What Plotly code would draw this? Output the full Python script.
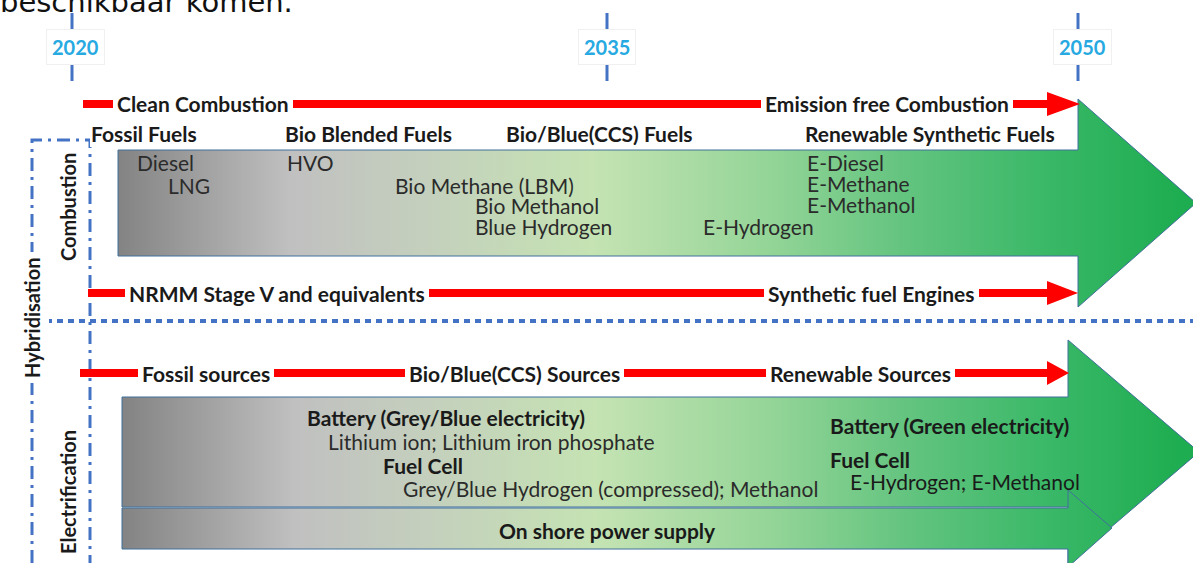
import plotly.graph_objects as go

# ---------------- data (texts) ----------------
header_text = "beschikbaar komen."
years = ["2020", "2035", "2050"]
combustion_targets = ["Clean Combustion", "Emission free Combustion"]
fuel_stages = ["Fossil Fuels", "Bio Blended Fuels", "Bio/Blue(CCS) Fuels", "Renewable Synthetic Fuels"]
combustion_fuels = ["Diesel", "LNG", "HVO", "Bio Methane (LBM)", "Bio Methanol",
                    "Blue Hydrogen", "E-Hydrogen", "E-Diesel", "E-Methane", "E-Methanol"]
engine_stages = ["NRMM Stage V and equivalents", "Synthetic fuel Engines"]
source_stages = ["Fossil sources", "Bio/Blue(CCS) Sources", "Renewable Sources"]
electric_headings = ["Battery (Grey/Blue electricity)", "Fuel Cell",
                     "Battery (Green electricity)", "Fuel Cell", "On shore power supply"]
electric_details = ["Lithium ion; Lithium iron phosphate",
                    "Grey/Blue Hydrogen (compressed); Methanol", "E-Hydrogen; E-Methanol"]
side_labels = ["Hybridisation", "Combustion", "Electrification"]

# ---------------- layout geometry (pixel canvas) ----------------
W, H = 1193, 563
FONT = "Lato"
SZ = 21
BLUE = "#4472c4"
RED = "#ff0000"
YEARC = "#27a9e1"
OUTLINE = "#41719c"

year_x = [72, 607, 1078]
year_label_x = [75, 607, 1082]

grad = [[0.0, "#838383"], [0.05, "#969696"], [0.16, "#c0c0c0"], [0.28, "#c4cfbd"],
        [0.44, "#c5e3b3"], [0.6, "#95d598"], [0.73, "#63c47f"], [0.86, "#3ab868"],
        [0.97, "#21ae53"], [1.0, "#1dac50"]]

fig = go.Figure()


def arrow_body(xs, ys, x0, x1):
    fig.add_trace(go.Scatter(
        x=xs, y=ys, mode="lines", fill="toself",
        line=dict(color=OUTLINE, width=1),
        fillgradient=dict(type="horizontal", colorscale=grad, start=x0, stop=x1),
        hoverinfo="skip", showlegend=False))


# combustion arrow
arrow_body([118, 1078, 1078, 1196, 1078, 1078, 118, 118],
           [150, 150, 99, 203, 307, 256, 256, 150], 118, 1196)
# electrification arrow
arrow_body([122, 1068, 1068, 1199, 1068, 1068, 122, 122],
           [397, 397, 340, 452, 564, 507, 507, 397], 122, 1199)
# on shore power supply arrow
arrow_body([122, 1068, 1068, 1112, 1068, 1068, 122, 122],
           [508, 508, 490, 528, 567, 549, 549, 508], 122, 1199)

# dash-dot hybridisation frame
fig.add_trace(go.Scatter(
    x=[32, 32, 90, 90], y=[563, 140, 140, 563], mode="lines",
    line=dict(color=BLUE, width=3, dash="13px,6px,3px,6px"),
    hoverinfo="skip", showlegend=False))
# dotted separator
fig.add_trace(go.Scatter(
    x=[46, 1193], y=[321, 321], mode="lines",
    line=dict(color=BLUE, width=4, dash="6px,5px"),
    hoverinfo="skip", showlegend=False))

shapes = []
# year ticks
for x in year_x:
    for (a, b) in [(13, 30), (62, 81)]:
        shapes.append(dict(type="line", xref="x", yref="y", x0=x, x1=x, y0=a, y1=b,
                           line=dict(color=BLUE, width=3)))

# red arrows
for (xa, xb, xt, y) in [(83, 1050, 1080, 104), (88, 1050, 1078, 293), (80, 1050, 1069, 373)]:
    shapes.append(dict(type="line", xref="x", yref="y", x0=xa, x1=xb, y0=y, y1=y,
                       line=dict(color=RED, width=8)))
    shapes.append(dict(type="path", xref="x", yref="y",
                       path=f"M {xb-3},{y-12} L {xt},{y} L {xb-3},{y+12} Z",
                       fillcolor=RED, line=dict(width=0)))

ann = []


def label(text, x, y, bold=False, size=SZ, color="#1a1a1a", xanchor="center",
          bg=None, angle=0, family=FONT, border=None, pad=3, yanchor="middle"):
    ann.append(dict(
        x=x, y=y, xref="x", yref="y", showarrow=False,
        text=f"<b>{text}</b>" if bold else text,
        font=dict(family=family, size=size, color=color),
        xanchor=xanchor, yanchor=yanchor, textangle=angle,
        bgcolor=bg if bg else "rgba(0,0,0,0)",
        bordercolor=border if border else "rgba(0,0,0,0)", borderwidth=1 if border else 0,
        borderpad=pad))


# header text (cut off at top)
label(header_text, 0, 19, size=29, family="DejaVu Sans", color="#111",
      xanchor="left", pad=0, yanchor="bottom")

# years
for t, x in zip(years, year_label_x):
    label(t, x, 47, bold=True, size=20, color=YEARC, bg="white", border="#f0f0f0", pad=5)

# combustion targets on top red line
label(combustion_targets[0], 203, 103, bold=True, bg="white", pad=4)
label(combustion_targets[1], 887, 103, bold=True, bg="white", pad=4)

# fuel stages
label(fuel_stages[0], 90, 133, bold=True, xanchor="left", bg="white", pad=1)
label(fuel_stages[1], 368, 133, bold=True, bg="white", pad=1)
label(fuel_stages[2], 599, 133, bold=True, bg="white", pad=1)
label(fuel_stages[3], 930, 133, bold=True, bg="white", pad=1)

# combustion fuels
fuel_pos = [(137, 162), (168, 185), (287, 162), (395, 185), (475, 205),
            (475, 226), (703, 226), (807, 162), (807, 183), (807, 204)]
for t, (x, y) in zip(combustion_fuels, fuel_pos):
    label(t, x, y, xanchor="left", color="#2b2b2b", pad=0)

# engines line
label(engine_stages[0], 277, 293, bold=True, bg="white", pad=4)
label(engine_stages[1], 871, 293, bold=True, bg="white", pad=4)

# sources line
for t, x in zip(source_stages, [206, 514, 860]):
    label(t, x, 373, bold=True, bg="white", pad=4)

# electrification contents
label(electric_headings[0], 307, 417, bold=True, xanchor="left", pad=0)
label(electric_details[0], 328, 441, xanchor="left", color="#2b2b2b", pad=0)
label(electric_headings[1], 383, 465, bold=True, xanchor="left", pad=0)
label(electric_details[1], 403, 488, xanchor="left", color="#2b2b2b", pad=0)
label(electric_headings[2], 830, 425, bold=True, xanchor="left", pad=0)
label(electric_headings[3], 830, 459, bold=True, xanchor="left", pad=0)
label(electric_details[2], 850, 481, xanchor="left", color="#1a1a1a", pad=0)
label(electric_headings[4], 607, 530, bold=True, pad=0)

# side labels
label(side_labels[0], 32, 318, bold=True, size=20, angle=-90, bg="white", pad=5)
label(side_labels[1], 68, 207, bold=True, size=20, angle=-90, pad=0)
label(side_labels[2], 68, 492, bold=True, size=20, angle=-90, pad=0)

fig.update_layout(
    width=W, height=H, margin=dict(l=0, r=0, t=0, b=0),
    paper_bgcolor="white", plot_bgcolor="white",
    xaxis=dict(range=[0, W], visible=False, fixedrange=True),
    yaxis=dict(range=[H, 0], visible=False, fixedrange=True),
    shapes=shapes, annotations=ann, showlegend=False,
)

fig.write_html("out.html", config={"displayModeBar": False},
               post_script="document.body.style.margin='0';document.body.style.overflow='hidden';")
